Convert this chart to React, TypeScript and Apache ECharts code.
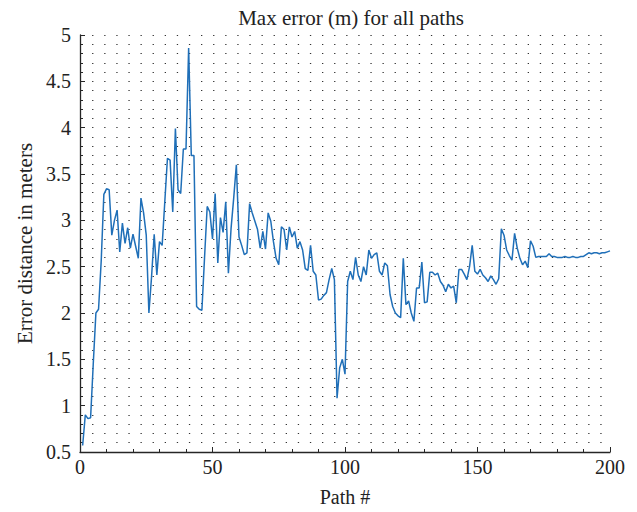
import React, { useEffect, useRef } from "react";
import * as echarts from "echarts";

const paths: number[] = Array.from({ length: 200 }, (_, k) => k + 1);

const maxError: number[] = [
  0.57, 0.9, 0.86, 0.87, 1.45, 2.0, 2.04, 2.56, 3.28, 3.34,
  3.33, 2.84, 3.0, 3.11, 2.66, 2.97, 2.75, 2.92, 2.7, 2.85,
  2.72, 2.59, 3.24, 3.08, 2.84, 2.0, 2.39, 2.85, 2.41, 2.77,
  2.73, 3.2, 3.67, 3.65, 3.09, 3.99, 3.33, 3.29, 3.77, 3.77,
  4.86, 3.7, 3.7, 2.07, 2.04, 2.03, 2.6, 3.15, 3.09, 2.8,
  3.29, 2.54, 3.03, 2.87, 3.2, 2.43, 2.91, 3.24, 3.6, 2.82,
  2.73, 2.63, 2.65, 3.18, 3.08, 2.99, 2.9, 2.7, 2.88, 2.69,
  3.08, 2.99, 2.77, 2.59, 2.52, 2.93, 2.9, 2.68, 2.93, 2.82,
  2.88, 2.7, 2.77, 2.68, 2.48, 2.46, 2.73, 2.45, 2.41, 2.14,
  2.15, 2.19, 2.22, 2.36, 2.48, 2.36, 1.08, 1.41, 1.5, 1.34,
  2.34, 2.45, 2.36, 2.6, 2.41, 2.34, 2.5, 2.41, 2.68, 2.59,
  2.63, 2.65, 2.45, 2.41, 2.54, 2.51, 2.2, 2.07, 2.0, 1.97,
  1.95, 2.59, 2.09, 2.13, 2.0, 1.91, 2.27, 2.27, 2.55, 2.11,
  2.12, 2.44, 2.44, 2.41, 2.43, 2.34, 2.3, 2.23, 2.31, 2.27,
  2.29, 2.11, 2.47, 2.47, 2.42, 2.36, 2.5, 2.73, 2.45, 2.42,
  2.47, 2.41, 2.38, 2.34, 2.4, 2.36, 2.31, 2.37, 2.91, 2.84,
  2.68, 2.62, 2.57, 2.86, 2.7, 2.59, 2.52, 2.56, 2.49, 2.78,
  2.72, 2.6, 2.61, 2.61, 2.61, 2.61, 2.64, 2.61, 2.61, 2.6,
  2.6, 2.6, 2.61, 2.6, 2.6, 2.61, 2.6, 2.6, 2.61, 2.61,
  2.63, 2.65, 2.64, 2.65, 2.65, 2.64, 2.65, 2.65, 2.66, 2.67,
];

const xTicks = { min: 0, max: 200, interval: 50 };
const yTicks = { min: 0.5, max: 5, interval: 0.5 };

const FONT = "'Liberation Serif', 'DejaVu Serif', serif";

export default function App() {
  const ref = useRef<HTMLDivElement>(null);
  useEffect(() => {
    if (!ref.current) return;
    const chart = echarts.init(ref.current, null, { renderer: "svg" });
    const axisColor = "#262626";
    const textColor = "#222";
    const dotStyle = {
      color: "#333",
      width: 1.2,
      type: [1.3, 10.8] as number[],
      dashOffset: 0,
    };
    chart.setOption({
      animation: false,
      backgroundColor: "#fff",
      title: {
        text: "Max error (m) for all paths",
        left: 346,
        textAlign: "center",
        top: 2,
        textStyle: { fontFamily: FONT, fontSize: 21, fontWeight: "normal", color: textColor },
      },
      grid: { left: 80, right: 27, top: 35, bottom: 57, containLabel: false },
      xAxis: {
        type: "value",
        min: xTicks.min,
        max: xTicks.max,
        interval: xTicks.interval,
        name: "Path #",
        nameLocation: "middle",
        nameGap: 35,
        nameTextStyle: { fontFamily: FONT, fontSize: 20, color: textColor, verticalAlign: "top" },
        axisLine: { show: true, onZero: false, lineStyle: { color: axisColor, width: 1.3 } },
        axisTick: { show: true, inside: true, length: 5, lineStyle: { color: axisColor } },
        minorTick: { show: true, splitNumber: 5, length: 3, lineStyle: { color: axisColor } },
        axisLabel: { fontFamily: FONT, fontSize: 20, color: textColor, margin: 5 },
        splitLine: { show: false },
      },
      yAxis: {
        type: "value",
        min: yTicks.min,
        max: yTicks.max,
        interval: yTicks.interval,
        name: "Error distance in meters",
        nameLocation: "middle",
        nameGap: 44,
        nameTextStyle: { fontFamily: FONT, fontSize: 21, color: textColor },
        axisLine: { show: true, onZero: false, lineStyle: { color: axisColor, width: 1.3 } },
        axisTick: { show: true, inside: true, length: 5, lineStyle: { color: axisColor } },
        minorTick: { show: true, splitNumber: 5, length: 3, lineStyle: { color: axisColor } },
        axisLabel: { fontFamily: FONT, fontSize: 20, color: textColor, margin: 9 },
        splitLine: { show: true, lineStyle: dotStyle },
        minorSplitLine: { show: true, lineStyle: dotStyle },
      },
      series: [
        {
          type: "line",
          data: paths.map((p, k) => [p, maxError[k]]),
          showSymbol: false,
          symbol: "none",
          lineStyle: { color: "#1f6fb8", width: 1.5 },
        },
      ],
    });
    return () => chart.dispose();
  }, []);
  return <div ref={ref} style={{ width: 637, height: 512, marginLeft: -8, marginTop: -8 }} />;
}
